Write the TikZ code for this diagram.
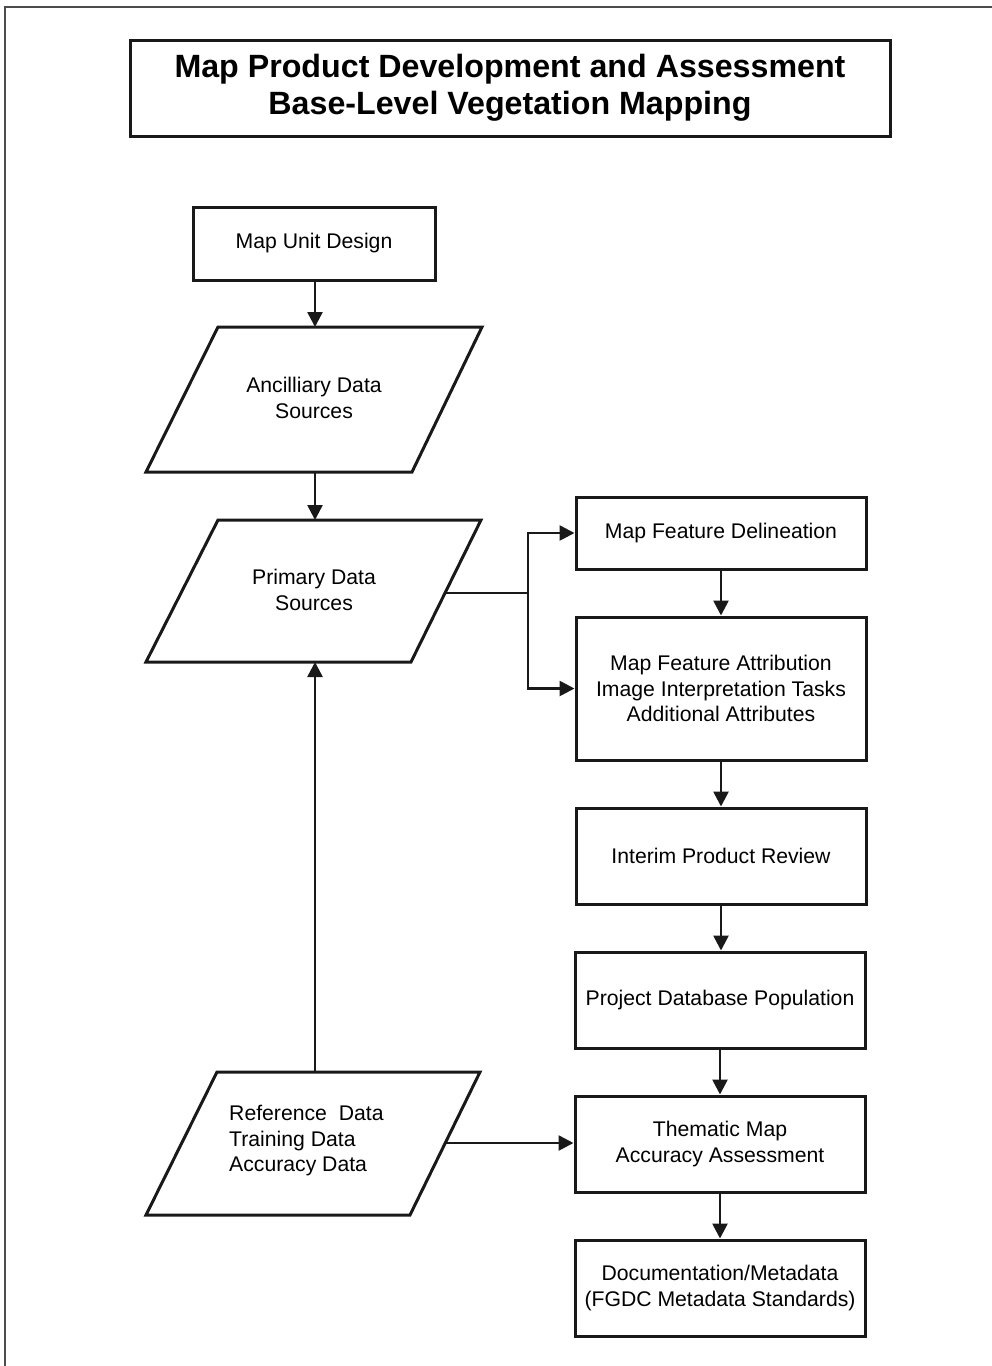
\documentclass[tikz,border=0pt]{standalone}
\usepackage{fontspec}
\setmainfont{Liberation Sans}
\usetikzlibrary{arrows.meta,calc}
\begin{document}
\begin{tikzpicture}[x=1pt,y=-1pt,
  box/.style={draw=black!90,line width=3pt,inner sep=0pt,align=center,
    font=\fontsize{21.2}{25.5}\selectfont,minimum width=290pt,minimum height=96pt},
  para/.style={draw=black!90,line width=3pt,line join=miter},
  lbl/.style={inner sep=0pt,align=center,font=\fontsize{21.2}{25.5}\selectfont},
  arr/.style={draw=black!90,line width=2.6pt,-{Triangle[length=15pt,width=15pt]}},
  link/.style={draw=black!90,line width=2.6pt}]
\useasboundingbox (0,0) rectangle (992,1366);
% page frame
\draw[black!70,line width=1.8pt] (5,1366) -- (5,7) -- (992,7);
% title
\node[box,minimum width=760pt,minimum height=96pt,
  font=\fontsize{32.2}{37}\selectfont\bfseries] (title) at (510,88)
  {Map Product Development and Assessment\\Base-Level Vegetation Mapping};
% left column
\node[box,minimum width=242pt,minimum height=73pt] (mud) at (314,243.5) {Map Unit Design};
\coordinate (ancTL) at (218,327); \coordinate (ancTR) at (482,327);
\coordinate (ancBR) at (412,472); \coordinate (ancBL) at (146,472);
\draw[para] (ancTL) -- (ancTR) -- (ancBR) -- (ancBL) -- cycle;
\node[lbl] (anc) at (314,398) {Ancilliary Data\\Sources};
\coordinate (ancT) at (315,327); \coordinate (ancB) at (315,472);
\coordinate (priTL) at (218,520); \coordinate (priTR) at (481,520);
\coordinate (priBR) at (411,662); \coordinate (priBL) at (146,662);
\draw[para] (priTL) -- (priTR) -- (priBR) -- (priBL) -- cycle;
\node[lbl] (pri) at (314,590) {Primary Data\\Sources};
\coordinate (priT) at (315,520); \coordinate (priB) at (315,662);
\coordinate (priR) at (445,593);
\coordinate (refTL) at (217,1072); \coordinate (refTR) at (480,1072);
\coordinate (refBR) at (410,1215); \coordinate (refBL) at (146,1215);
\draw[para] (refTL) -- (refTR) -- (refBR) -- (refBL) -- cycle;
\node[lbl,align=left,anchor=west] (ref) at (229,1141)
  {Reference\ \ Data\\Training Data\\Accuracy Data};
\coordinate (refT) at (315,1072); \coordinate (refR) at (445,1143);
% right column
\node[box,minimum height=72pt] (del) at (721,533) {Map Feature Delineation};
\node[box,minimum height=143pt] (att) at (721,688.5)
  {Map Feature Attribution\\Image Interpretation Tasks\\Additional Attributes};
\node[box] (int) at (721,856) {Interim Product Review};
\node[box] (pdb) at (720,1000) {Project Database Population};
\node[box] (tma) at (720,1144) {Thematic Map\\Accuracy Assessment};
\node[box] (doc) at (720,1288) {Documentation/Metadata\\(FGDC Metadata Standards)};
% connectors
\draw[arr] (mud.south -| ancT) -- (ancT);
\draw[arr] (ancB) -- (priT);
\coordinate (junc) at (528,593);
\draw[link] (priR) -- (junc);
\draw[arr] (junc) |- (del.west);
\draw[arr] (junc) |- (att.west);
\draw[arr] (del.south) -- (att.north);
\draw[arr] (att.south) -- (int.north);
\draw[arr] (int.south) -- (int.south |- pdb.north);
\draw[arr] (pdb.south) -- (tma.north);
\draw[arr] (tma.south) -- (doc.north);
\draw[arr] (refT) -- (priB);
\draw[arr] (refR) -- (refR -| tma.west);
\end{tikzpicture}
\end{document}
